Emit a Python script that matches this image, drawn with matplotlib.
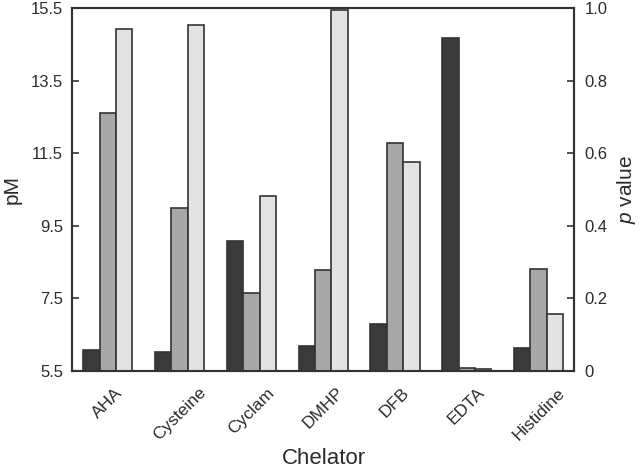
import matplotlib
matplotlib.use('Agg')
from matplotlib import pyplot as plt
import numpy as np

plt.rcParams['font.family'] = ['Liberation Sans', 'DejaVu Sans']
plt.rcParams['mathtext.fontset'] = 'custom'
plt.rcParams['mathtext.it'] = 'Liberation Sans:italic'
plt.rcParams['mathtext.rm'] = 'Liberation Sans'

chelators = ['AHA', 'Cysteine', 'Cyclam', 'DMHP', 'DFB', 'EDTA', 'Histidine']
pM = [6.08, 6.03, 9.09, 6.20, 6.81, 14.68, 6.13]
p_a = [0.71, 0.448, 0.216, 0.278, 0.627, 0.009, 0.282]
p_b = [0.942, 0.952, 0.481, 0.995, 0.577, 0.006, 0.157]

edge = '#333333'
txt = '#2b2b2b'
fig = plt.figure(figsize=(6.4, 4.68), dpi=100)
ax = fig.add_axes([0.1125, 0.207, 0.785, 0.776])
ax2 = ax.twinx()

x = np.arange(len(chelators))
w = 0.228
ax.bar(x - w, pM, w, color='#3a3a3a', edgecolor=edge, linewidth=1.2, zorder=3)
ax2.bar(x, p_a, w, color='#a7a8aa', edgecolor=edge, linewidth=1.2)
ax2.bar(x + w, p_b, w, color='#e2e3e5', edgecolor=edge, linewidth=1.2)

ax.set_xlim(-0.5, 6.5)
ax.set_ylim(5.5, 15.5)
ax.set_yticks([5.5, 7.5, 9.5, 11.5, 13.5, 15.5])
ax.set_yticklabels(['5.5', '7.5', '9.5', '11.5', '13.5', '15.5'])
ax2.set_ylim(0, 1.0)
ax2.set_yticks([0, 0.2, 0.4, 0.6, 0.8, 1.0])
ax2.set_yticklabels(['0', '0.2', '0.4', '0.6', '0.8', '1.0'])

ax.set_xticks(x)
ax.set_xticklabels(chelators, rotation=45, ha='center')
ax.tick_params(axis='x', length=0, pad=10, labelsize=12.5, labelcolor=txt)
ax.tick_params(axis='y', direction='in', length=5, width=1.2, labelsize=12,
               labelcolor=txt, color=edge, pad=6.5)
ax2.tick_params(axis='y', direction='in', length=5, width=1.2, labelsize=12,
                labelcolor=txt, color=edge, pad=7.5)

for a in (ax, ax2):
    for s in a.spines.values():
        s.set_color(edge)
        s.set_linewidth(1.5)

ax.set_ylabel('pM', fontsize=15, color=txt, va='center')
ax.yaxis.set_label_coords(-0.12, 0.5)
ax2.set_ylabel('$p$ value', fontsize=15, color=txt, va='center')
ax2.yaxis.set_label_coords(1.104, 0.5)
ax.set_xlabel('Chelator', fontsize=16, color=txt, va='top')
ax.xaxis.set_label_coords(0.501, -0.212)

fig.savefig('out.png', dpi=100)
